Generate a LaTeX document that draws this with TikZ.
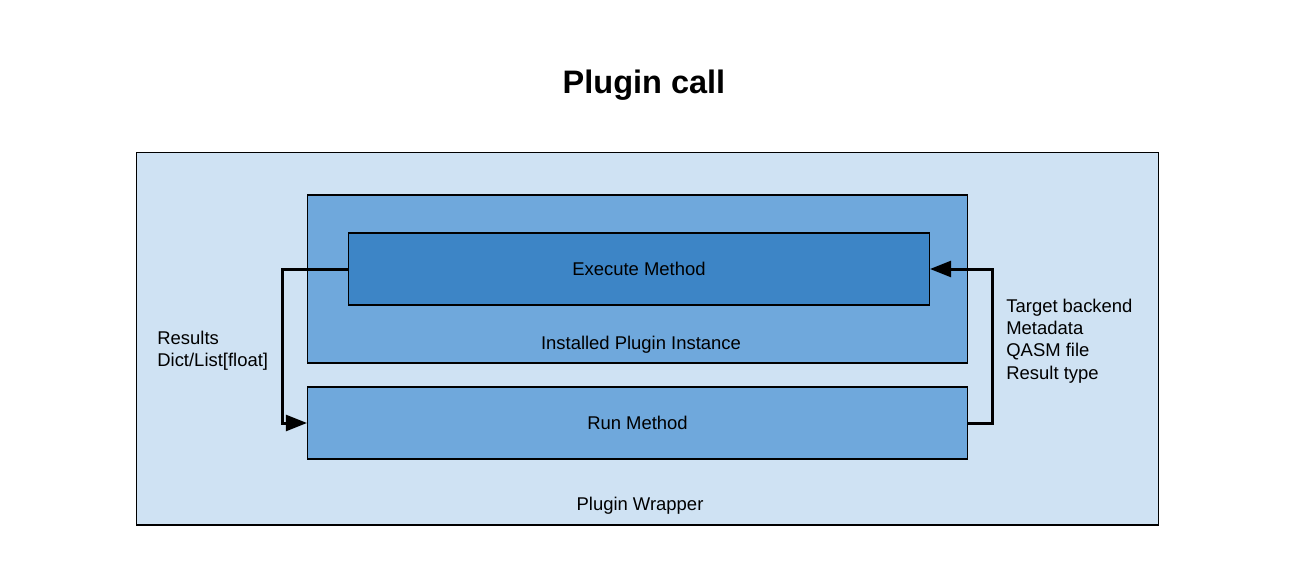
\documentclass[tikz,border=0pt]{standalone}
\usepackage{fontspec}
\setmainfont{Liberation Sans}
\usetikzlibrary{positioning,arrows.meta}

\definecolor{wrapblue}{HTML}{CFE2F3}
\definecolor{midblue}{HTML}{6FA8DC}
\definecolor{deepblue}{HTML}{3D85C6}

\tikzset{
  box/.style={draw=black, line width=0.6pt, inner sep=0pt, outer sep=0pt},
  lbl/.style={font=\fontsize{10.5}{12.75}\selectfont},
  flow/.style={line width=1.7pt, -{Triangle[length=12pt, width=9pt]}}
}

\begin{document}
\begin{tikzpicture}[x=0.02cm, y=-0.02cm]
        \useasboundingbox (0,0) rectangle (1295,579);
        \node[font=\fontsize{18.5}{22}\selectfont\bfseries] (title) at (644,85) {Plugin call};
        \node[box, fill=wrapblue, minimum width=20.46cm, minimum height=7.46cm]
        (wrapper) at (647.5,338.5) {};
        \node[box, fill=midblue, minimum width=13.22cm, minimum height=3.36cm]
        (instance) at (637.5,279) {};
        \node[box, fill=deepblue, minimum width=11.64cm, minimum height=1.44cm, lbl]
        (exec) at (639,269) {Execute Method};
        \node[box, fill=midblue, minimum width=13.22cm, minimum height=1.44cm, lbl]
        (run) at (637.5,423) {Run Method};
        \node[lbl] (instlabel) at (641,345) {Installed Plugin Instance};
        \node[lbl] (wraplabel) at (640,506) {Plugin Wrapper};
        % inputs and outputs
        \node[lbl, anchor=west, align=left, inner sep=0pt] (results) at (157,351)
        {Results\\Dict/List[float]};
        \node[lbl, anchor=west, align=left, inner sep=0pt] (inputs) at (1006,341)
        {Target backend\\Metadata\\QASM file\\Result type};
        \draw[flow] (exec.west) -- ++(-66,0) |- (run.west);
        \draw[flow] (run.east) -- ++(25,0) |- (exec.east);
      \end{tikzpicture}
\end{document}
